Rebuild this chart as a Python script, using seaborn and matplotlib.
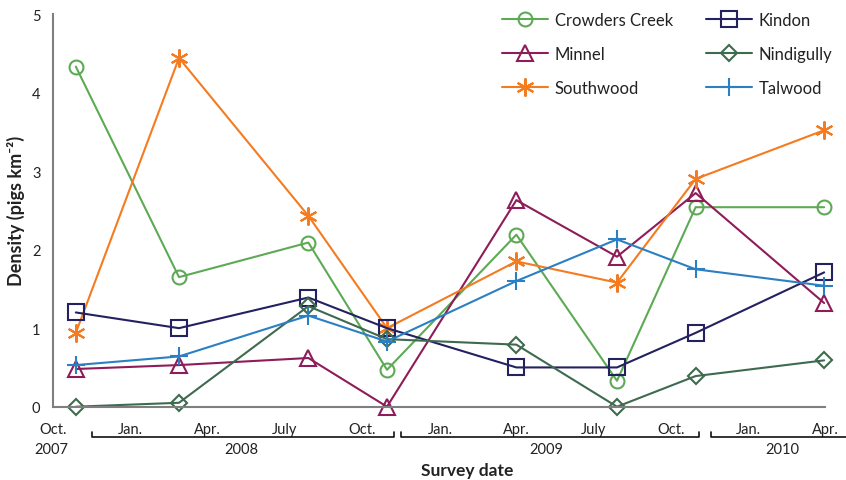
import matplotlib
matplotlib.use("Agg")
import matplotlib.pyplot as plt
import matplotlib.dates as mdates
import matplotlib.transforms as mtransforms
import seaborn as sns
import pandas as pd

# survey dates and densities (pigs per km2)
survey_dates = pd.to_datetime(["2007-10-28", "2008-02-27", "2008-07-29", "2008-10-30",
                               "2009-04-01", "2009-07-29", "2009-10-30", "2010-03-31"])
crowders_creek = [4.33, 1.65, 2.09, 0.47, 2.19, 0.33, 2.54, 2.54]
minnel = [0.48, 0.53, 0.62, 0.0, 2.63, 1.91, 2.72, 1.32]
southwood = [0.94, 4.44, 2.43, 1.0, 1.85, 1.58, 2.90, 3.52]
kindon = [1.20, 1.00, 1.39, 1.00, 0.50, 0.50, 0.94, 1.71]
nindigully = [0.0, 0.05, 1.28, 0.86, 0.79, 0.0, 0.39, 0.59]
talwood = [0.53, 0.64, 1.16, 0.83, 1.60, 2.13, 1.75, 1.54]

tick_dates = pd.to_datetime(["2007-10-01", "2008-01-01", "2008-04-01", "2008-07-01", "2008-10-01",
                             "2009-01-01", "2009-04-01", "2009-07-01", "2009-10-01",
                             "2010-01-01", "2010-04-01"])
tick_labels = ["Oct.", "Jan.", "Apr.", "July", "Oct.", "Jan.", "Apr.", "July", "Oct.", "Jan.", "Apr."]

series = {
    "Crowders Creek": crowders_creek,
    "Minnel": minnel,
    "Southwood": southwood,
    "Kindon": kindon,
    "Nindigully": nindigully,
    "Talwood": talwood,
}
colors = {
    "Crowders Creek": "#5daa55",
    "Minnel": "#8e1c58",
    "Southwood": "#f47b20",
    "Kindon": "#23215f",
    "Nindigully": "#3e6a4f",
    "Talwood": "#2b7fc3",
}
markers = {
    "Crowders Creek": ("o", 10),
    "Minnel": ("^", 12),
    "Southwood": ((6, 2, 0), 13),
    "Kindon": ("s", 12),
    "Nindigully": ("D", 8),
    "Talwood": ("+", 13),
}

sns.set_style("white")
plt.rcParams['font.family'] = ['Lato', 'DejaVu Sans']
text_col = "#222222"
axis_col = "#7f7f7f"

fig = plt.figure(figsize=(8.46, 4.81), dpi=100)
ax = fig.add_axes([53/846, 1 - 407.7/481, 772/846, 392.7/481])

for site, vals in series.items():
    m, ms = markers[site]
    sns.lineplot(x=survey_dates, y=vals, ax=ax, color=colors[site], marker=m, markersize=ms,
                 markerfacecolor="none", markeredgecolor=colors[site], markeredgewidth=1.5,
                 linewidth=1.5, label=site, clip_on=False)

ax.set_xlim(tick_dates[0], tick_dates[-1])
ax.set_ylim(0, 5)
ax.set_xticks(tick_dates)
ax.set_xticklabels(tick_labels)
ax.set_yticks([0, 1, 2, 3, 4, 5])

sns.despine(ax=ax)
for sp in ["left", "bottom"]:
    ax.spines[sp].set_color(axis_col)
    ax.spines[sp].set_linewidth(1.5)
ax.tick_params(axis="both", direction="out", length=5, width=1.5, color=axis_col,
               labelsize=10.5, labelcolor=text_col, pad=4)
ax.tick_params(axis="x", pad=6)

ax.set_xlabel("")
ax.set_ylabel("Density (pigs km⁻²)", fontsize=13, fontweight="bold", color=text_col)
ax.yaxis.set_label_coords(-0.036, 0.5)

# year brackets under the month labels
trans = mtransforms.blended_transform_factory(ax.transData, ax.transAxes)
brackets = [("2008-11-16", "2007-11-16", "2008-11-07", True),
            ("2009-11-16", "2008-11-16", "2009-11-03", True),
            ("2010-11-17", "2009-11-17", "2010-04-30", False)]
yb, yt = -0.078, -0.064
for _, d0, d1, close in brackets:
    x0 = mdates.date2num(pd.Timestamp(d0))
    x1 = mdates.date2num(pd.Timestamp(d1))
    xs = [x0, x0, x1, x1] if close else [x0, x0, x1]
    ys = [yt, yb, yb, yt] if close else [yt, yb, yb]
    ax.plot(xs, ys, transform=trans, color="#111111", lw=1.2, clip_on=False,
            scalex=False, scaley=False)

year_labels = ["2007", "2008", "2009", "2010"]
year_label_dates = pd.to_datetime(["2007-09-29", "2008-05-11", "2009-05-06", "2010-02-10"])
for year, d in zip(year_labels, year_label_dates):
    ax.text(mdates.date2num(d), -0.108, year, transform=trans, ha="center", va="center",
            fontsize=10.5, color=text_col)
ax.text(0.536, -0.161, "Survey date", transform=ax.transAxes, ha="center", va="center",
        fontsize=12.5, fontweight="bold", color=text_col)

handles, labels = ax.get_legend_handles_labels()
ax.legend(handles, labels, ncol=2, frameon=False, loc="upper left",
          bbox_to_anchor=(494/846, 0.991), bbox_transform=fig.transFigure,
          fontsize=12, borderpad=0, handlelength=2.75, handletextpad=0.4,
          labelspacing=1.1, columnspacing=2.0, labelcolor=text_col)

fig.savefig("out.png", dpi=100)
